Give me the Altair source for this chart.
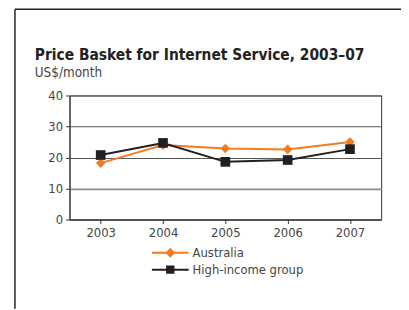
import altair as alt
import pandas as pd

years = ["2003", "2004", "2005", "2006", "2007"]
australia = [18.2, 24.0, 22.9, 22.6, 25.0]
high_income = [20.8, 24.7, 18.6, 19.2, 22.7]
series_names = ["Australia", "High-income group"]
colors = ["#f47c20", "#231f20"]

rows = []
for y, a, h in zip(years, australia, high_income):
    rows.append({"year": y, "value": a, "series": series_names[0]})
    rows.append({"year": y, "value": h, "series": series_names[1]})
df = pd.DataFrame(rows)

FONT = "Liberation Sans Narrow, DejaVu Sans Condensed, Roboto Condensed, Roboto, sans-serif"

x_enc = alt.X("year:N", sort=years, title=None,
              scale=alt.Scale(paddingInner=0, paddingOuter=0),
              axis=alt.Axis(labelAngle=0, bandPosition=0, tickSize=4,
                            labelFontSize=13, labelFont=FONT, labelColor="#444",
                            domainColor="#333", tickColor="#333", labelPadding=3))
y_enc = alt.Y("value:Q", title=None,
              scale=alt.Scale(domain=[0, 40]),
              axis=alt.Axis(values=[0, 10, 20, 30, 40], tickSize=4,
                            labelFontSize=13, labelFont=FONT, labelColor="#444",
                            domain=True, domainColor="#333", tickColor="#333",
                            labelPadding=3, grid=True,
                            gridColor={"condition": {"test": "datum.value === 10", "value": "#8c8c8c"},
                                       "value": "#555555"},
                            gridWidth={"condition": {"test": "datum.value === 10", "value": 1.8},
                                       "value": 1}))
color_enc = alt.Color("series:N", sort=series_names,
                      scale=alt.Scale(domain=series_names, range=colors),
                      legend=None)

lines = alt.Chart(df).mark_line(strokeWidth=2).encode(
    x=x_enc, y=y_enc, color=color_enc, detail="series:N")

points = alt.Chart(df).mark_point(filled=True, opacity=1, size=95).encode(
    x=x_enc, y=y_enc, color=color_enc,
    shape=alt.Shape("series:N", legend=None,
                    scale=alt.Scale(domain=series_names, range=["diamond", "square"])))

data_layers = alt.layer(lines, points)

leg_paths = [
    "M-2.2,-0.12H-0.5V0.12H-2.2Z M0.5,-0.12H2.2V0.12H0.5Z M0,-0.6L0.6,0L0,0.6L-0.6,0Z",
    "M-2.2,-0.12H-0.5V0.12H-2.2Z M0.5,-0.12H2.2V0.12H0.5Z M-0.5,-0.5H0.5V0.5H-0.5Z",
]
leg = alt.Legend(title=None, orient="none", legendX=93, legendY=150,
                 symbolSize=283, symbolOpacity=1, symbolStrokeWidth=0,
                 labelFontSize=13, labelFont=FONT, labelColor="#444",
                 labelOffset=14, rowPadding=1)
legend_layer = alt.Chart(df).mark_point(filled=True, opacity=0).encode(
    x=x_enc, y=y_enc,
    fill=alt.Fill("series2:N", scale=alt.Scale(domain=series_names, range=colors), legend=leg),
    shape=alt.Shape("series2:N", scale=alt.Scale(domain=series_names, range=leg_paths), legend=leg),
).transform_calculate(series2="datum.series")

frame_left = alt.Chart(pd.DataFrame({"k": [0]})).mark_rule(color="#222", strokeWidth=1.5).encode(
    x=alt.value(-55), y=alt.value(-87), y2=alt.value(215))
frame_top = alt.Chart(pd.DataFrame({"k": [0]})).mark_rule(color="#222", strokeWidth=1.5).encode(
    x=alt.value(-55), x2=alt.value(340), y=alt.value(-87))

chart = alt.layer(frame_left, frame_top, data_layers, legend_layer).resolve_scale(
    shape="independent", fill="independent").resolve_legend(
    shape="independent", fill="independent").properties(
    width=314, height=125,
    padding={"left": 62, "top": 87, "right": 20, "bottom": 90},
    autosize=alt.AutoSizeParams(type="none"),
    title=alt.TitleParams(
        text="Price Basket for Internet Service, 2003–07",
        subtitle="US$/month",
        anchor="start", frame="group", dx=-35, offset=-72,
        font=FONT, fontSize=15.5, fontWeight="bold", color="#222",
        subtitleFont=FONT, subtitleFontSize=13.5, subtitleColor="#444",
        subtitlePadding=3),
).configure_view(stroke="#333", strokeWidth=1)

chart.save("out.html", embed_options={"renderer": "svg", "actions": False})
